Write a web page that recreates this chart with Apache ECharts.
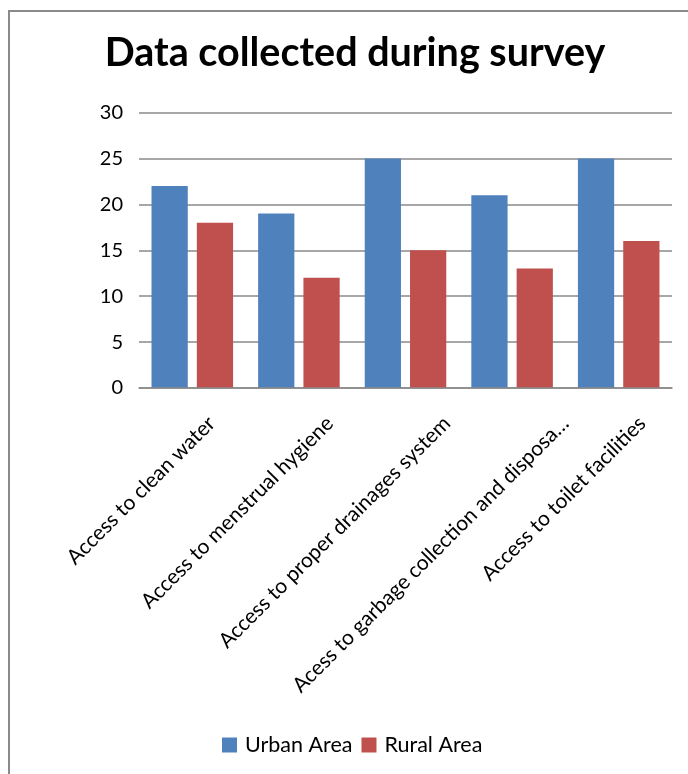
<!DOCTYPE html>
<html>
<head>
<meta charset="utf-8">
<script src="https://cdn.jsdelivr.net/npm/echarts@6/dist/echarts.min.js"></script>
<style>
  html, body { margin: 0; padding: 0; background: #fff; }
  #frame { position: absolute; left: 8px; top: 10px; width: 700px; height: 800px; border: 2px solid #8a8a8a; box-sizing: border-box; }
  #chart { position: absolute; left: 0; top: 0; width: 688px; height: 774px; }
</style>
</head>
<body>
<div id="frame"></div>
<div id="chart"></div>
<script>
const categories = [
  "Access to clean water",
  "Access to menstrual hygiene",
  "Access to proper drainages system",
  "Acess to garbage collection and disposa\u2026",
  "Access to toilet facilities"
];
const urbanArea = [22, 19, 25, 21, 25];
const ruralArea = [18, 12, 15, 13, 16];
const yTicks = { min: 0, max: 30, interval: 5 };

const font = "Lato";
const labelSize = 21;

// Spreadsheet-style anchoring of 45deg rotated category labels:
// the label end sits lower-right of the tick by an amount that grows with label length.
const measureCtx = document.createElement('canvas').getContext('2d');
measureCtx.font = labelSize + 'px ' + font;
const LH = 24, MARGIN = -25, S = Math.SQRT2;
const labelRich = {};
categories.forEach(function (name, i) {
  const w = measureCtx.measureText(name).width;
  const off = -18 + 0.187 * w;     // horizontal offset of label end from tick
  const down = 32;                 // vertical offset of label end below axis
  const along = (off - down) / S;  // shift along text direction
  const perp = (off + down) / S;   // shift perpendicular (down-right)
  const alongM = -MARGIN / S, perpM = MARGIN / S;
  const pRight = Math.max(0, alongM - along);
  const pTop = Math.max(0, 2 * (perp - perpM));  // label box is centred on its anchor
  labelRich['l' + i] = {
    fontFamily: font, fontSize: labelSize, color: '#000', lineHeight: LH,
    padding: [pTop, pRight, 0, 0]
  };
});

const chart = echarts.init(document.getElementById('chart'), null, { renderer: 'canvas' });
chart.setOption({
  backgroundColor: 'transparent',
  animation: false,
  title: {
    text: 'Data collected during survey',
    left: 350, top: 28, textAlign: 'center',
    textStyle: { fontFamily: font, fontSize: 39.5, fontWeight: 'bold', color: '#000' }
  },
  legend: {
    top: 729, left: 217,
    itemWidth: 15, itemHeight: 15, itemGap: 9,
    icon: 'rect',
    textStyle: { fontFamily: font, fontSize: 21.5, color: '#000', padding: [0, 0, 0, 3] },
    data: ['Urban Area', 'Rural Area']
  },
  grid: {
    left: 139, right: 16, top: 112.5, bottom: 386,
    containLabel: false, outerBoundsMode: 'none'
  },
  xAxis: {
    type: 'category',
    data: categories,
    axisTick: { show: false },
    axisLine: { lineStyle: { color: '#8a8a8a', width: 1.5 } },
    z: 5,
    axisLabel: {
      interval: 0, rotate: 45, margin: MARGIN,
      fontFamily: font, fontSize: labelSize, color: '#000',
      formatter: function (value, index) { return '{l' + index + '|' + value + '}'; },
      rich: labelRich
    }
  },
  yAxis: {
    type: 'value',
    min: yTicks.min, max: yTicks.max, interval: yTicks.interval,
    axisLine: { show: false },
    axisTick: { show: false },
    axisLabel: { fontFamily: font, fontSize: 20, color: '#000', margin: 16 },
    splitLine: { lineStyle: { color: '#8a8a8a', width: 1.5 } }
  },
  series: [
    { name: 'Urban Area', type: 'bar', data: urbanArea, barWidth: '34%', barGap: '25%',
      itemStyle: { color: '#4F81BD' } },
    { name: 'Rural Area', type: 'bar', data: ruralArea, barWidth: '34%', barGap: '25%',
      itemStyle: { color: '#C0504D' } }
  ]
});
</script>
</body>
</html>
